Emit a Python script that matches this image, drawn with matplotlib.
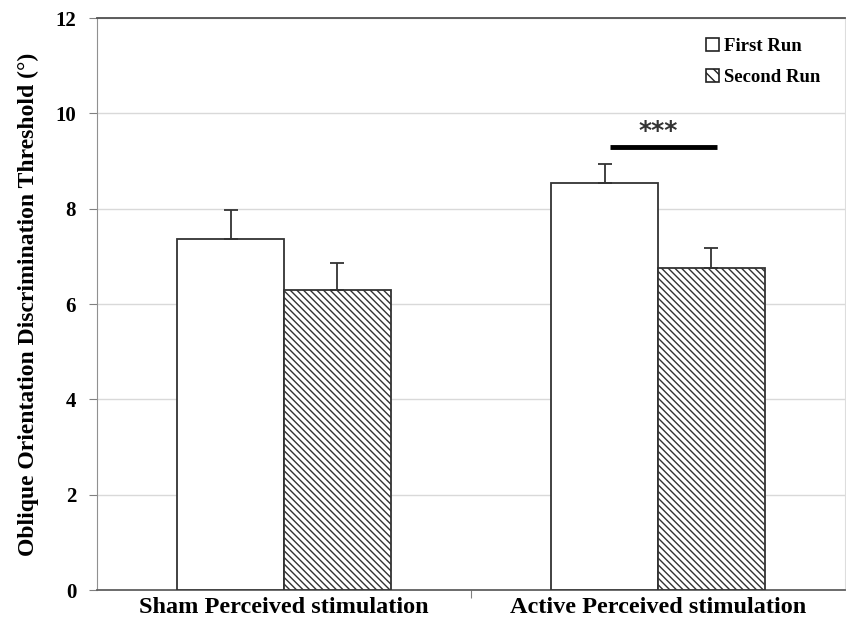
import matplotlib
matplotlib.use('Agg')
import matplotlib.pyplot as plt
from matplotlib.patches import Patch
import numpy as np

# Data
groups = ["Sham Perceived stimulation", "Active Perceived stimulation"]
first_run = [7.36, 8.54]
first_err = [0.61, 0.40]
second_run = [6.29, 6.75]
second_err = [0.57, 0.42]
series_names = ["First Run", "Second Run"]

plt.rcParams['font.family'] = ['Liberation Serif', 'DejaVu Serif']
plt.rcParams['hatch.linewidth'] = 1.0
plt.rcParams['hatch.color'] = '#333333'

fig = plt.figure(figsize=(8.46, 6.28), dpi=100)
ax = fig.add_axes([0.1147, 0.0605, 0.8841, 0.9108])

x = np.arange(len(groups))
w = 0.285

ax.bar(x - w / 2, first_run, w, color='white', edgecolor='#333333', linewidth=1.3, zorder=3)
ax.bar(x + w / 2, second_run, w, color='white', edgecolor='#333333', linewidth=1.3,
       hatch='\\\\\\\\\\', zorder=3)

# upper-only error bars
ax.errorbar(x - w / 2, first_run, yerr=[np.zeros(2), first_err], fmt='none',
            ecolor='#333333', elinewidth=1.3, capsize=5, capthick=1.3, zorder=4)
ax.errorbar(x + w / 2, second_run, yerr=[np.zeros(2), second_err], fmt='none',
            ecolor='#333333', elinewidth=1.3, capsize=5, capthick=1.3, zorder=4)

ax.set_xlim(-0.5, 1.5)
ax.set_ylim(0, 12)
ax.set_yticks(range(0, 13, 2))
ax.yaxis.grid(True, color='#d9d9d9', linewidth=1.0, zorder=0)
ax.set_axisbelow(True)

ax.set_xticks([0.5])
ax.set_xticklabels([])
ax.tick_params(axis='x', length=6, color='#808080', direction='out')
ax.tick_params(axis='y', length=6, color='#808080', direction='out', labelsize=15, pad=9)
for lab in ax.get_yticklabels():
    lab.set_fontweight('bold')

for i, g in enumerate(groups):
    ax.text(x[i], -0.36, g, ha='center', va='center', fontsize=17.5, fontweight='bold',
            transform=ax.transData)

ax.set_ylabel("Oblique Orientation Discrimination Threshold (°)", fontsize=17,
              fontweight='bold', labelpad=12)

ax.spines['left'].set_color('#909090')
ax.spines['bottom'].set_color('#606060')
ax.spines['bottom'].set_linewidth(1.3)
ax.spines['top'].set_color('#505050')
ax.spines['top'].set_linewidth(1.3)
ax.spines['right'].set_color('#dddddd')

# significance bar
ax.plot([0.872, 1.158], [9.29, 9.29], color='black', linewidth=3.5,
        solid_capstyle='butt', zorder=5)
ax.text(1.0, 9.64, "***", ha='center', va='center', fontsize=18, fontweight='bold',
        family='DejaVu Sans', color='#333333')

# legend
handles = [Patch(facecolor='white', edgecolor='#222222', linewidth=1.2),
           Patch(facecolor='white', edgecolor='#222222', linewidth=1.2, hatch='\\\\\\')]
leg = ax.legend(handles, series_names, loc='upper right', bbox_to_anchor=(0.99, 0.995),
                frameon=False, handlelength=0.7, handleheight=0.7, handletextpad=0.3,
                labelspacing=0.75, prop={'family': 'Liberation Serif', 'weight': 'bold', 'size': 13.5})

fig.savefig('out.png', dpi=100)
